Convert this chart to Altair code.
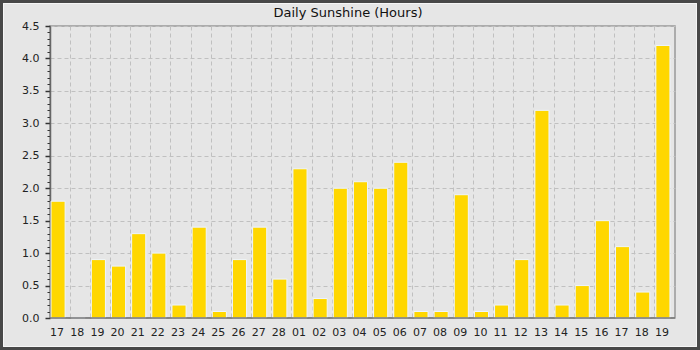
import altair as alt
import pandas as pd

days = ["17", "18", "19", "20", "21", "22", "23", "24", "25", "26", "27", "28",
        "01", "02", "03", "04", "05", "06", "07", "08", "09", "10", "11", "12",
        "13", "14", "15", "16", "17", "18", "19"]
hours = [1.8, 0.0, 0.9, 0.8, 1.3, 1.0, 0.2, 1.4, 0.1, 0.9, 1.4, 0.6,
         2.3, 0.3, 2.0, 2.1, 2.0, 2.4, 0.1, 0.1, 1.9, 0.1, 0.2, 0.9,
         3.2, 0.2, 0.5, 1.5, 1.1, 0.4, 4.2]
y_tick_values = [round(i * 0.1, 1) for i in range(46)]
title_text = "Daily Sunshine (Hours)"

df = pd.DataFrame({
    "key": [f"{i:02d}_{d}" for i, d in enumerate(days)],
    "hours": hours,
})

FONT = "DejaVu Sans"
major_test = "abs(datum.value * 2 - round(datum.value * 2)) < 0.001"

x_enc = alt.X(
    "key:N",
    sort=None,
    title=None,
    scale=alt.Scale(paddingInner=0.3, paddingOuter=0.15, align=0),
    axis=alt.Axis(
        labelExpr="substring(datum.value, 3)",
        labelAngle=0,
        labelFont=FONT,
        labelFontSize=11,
        labelColor="#222222",
        labelPadding=8,
        ticks=False,
        tickSize=0,
        tickOpacity=0,
        bandPosition=0,
        grid=True,
        gridColor="#c0c0c0",
        gridDash=[4, 3],
        gridWidth=1,
        domain=False,
    ),
)

y_enc = alt.Y(
    "hours:Q",
    title=None,
    scale=alt.Scale(domain=[0, 4.5], nice=False, zero=True),
    axis=alt.Axis(
        values=y_tick_values,
        labelExpr=f"({major_test}) ? format(datum.value, '.1f') : ''",
        labelFont=FONT,
        labelFontSize=11,
        labelColor="#222222",
        labelPadding=6,
        tickColor="#333333",
        tickSize={"condition": {"test": major_test, "value": 5}, "value": 3},
        tickWidth={"condition": {"test": major_test, "value": 1.5}, "value": 1},
        grid=True,
        gridColor="#c0c0c0",
        gridDash=[4, 3],
        gridOpacity={"condition": {"test": major_test, "value": 1}, "value": 0},
        domainColor="#666666",
        domainWidth=1.5,
    ),
)

bars = alt.Chart(df).mark_bar(
    color="#FFD700", stroke="#eef5ff", strokeWidth=1, xOffset=1
).encode(x=x_enc, y=y_enc)

frame_df = pd.DataFrame({"a": [0]})
baseline = alt.Chart(frame_df).mark_rule(
    color="#777777", strokeWidth=1.5
).encode(x=alt.value(0), x2=alt.value(625), y=alt.value(292))
outer = alt.Chart(frame_df).mark_rect(
    fill=None, stroke="#484848", strokeWidth=3
).encode(
    x=alt.value(-48.5), x2=alt.value(648.5),
    y=alt.value(-24.5), y2=alt.value(322.5),
)
inner = alt.Chart(frame_df).mark_rect(
    fill=None, stroke="#f6f6f6", strokeWidth=1
).encode(
    x=alt.value(-46.5), x2=alt.value(646.5),
    y=alt.value(-22.5), y2=alt.value(320.5),
)
title = alt.Chart(frame_df).mark_text(
    font=FONT, fontSize=13, color="#111111", align="center", baseline="alphabetic"
).encode(
    x=alt.value(298), y=alt.value(-9), text=alt.value(title_text)
)

chart = alt.layer(bars, baseline, outer, inner, title).properties(
    width=625,
    height=292,
    padding={"left": 50, "top": 26, "right": 25, "bottom": 32},
    autosize="none",
    background="#e6e6e6",
).configure_view(
    stroke="#999999",
    strokeWidth=1.5,
    fill="#e6e6e6",
)

chart.save("out.html", embed_options={"renderer": "svg", "actions": False})
